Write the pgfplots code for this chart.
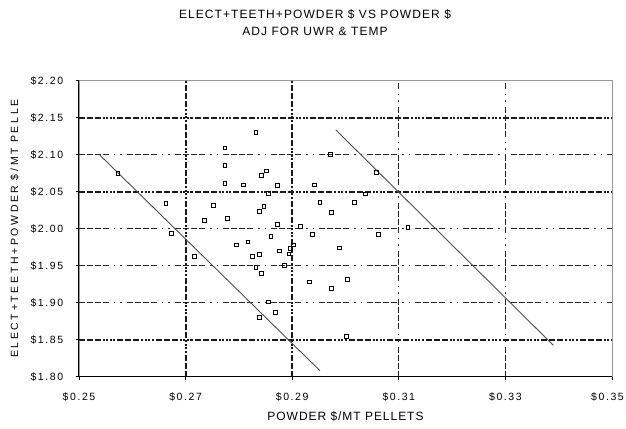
\documentclass[border=0pt]{standalone}
\usepackage{fontspec}
\setmainfont{Liberation Sans}
\newfontfamily\tickfont{Liberation Sans}[LetterSpace=15]
\newfontfamily\xlabfont{Liberation Sans}[LetterSpace=8]
\newfontfamily\ylabfont{Liberation Sans}[LetterSpace=25]
\newfontfamily\titlefont{Liberation Sans}[LetterSpace=9]
\usepackage{pgfplots}
\pgfplotsset{compat=1.18}
\tikzset{
 gthin/.style={black!85, line width=1.1bp, dash pattern=on 6bp off 2bp on 6bp off 2bp on 6bp off 2bp on 6bp off 5bp on 1.5bp off 5bp on 1.5bp off 5bp},
 gthick/.style={black!90, line width=2bp, dash pattern=on 6bp off 2bp on 6bp off 2bp on 6bp off 2bp on 2bp off 1.5bp on 2bp off 1.5bp on 2bp off 1.5bp on 2bp off 2bp},
}
\begin{document}
\begin{tikzpicture}
\useasboundingbox (-79bp,-52.3bp) rectangle (547bp,376.7bp);
\begin{axis}[
 at={(0,0)}, anchor=south west,
 scale only axis, width=533bp, height=296bp,
 xmin=0.25, xmax=0.35, ymin=1.80, ymax=2.20,
 xtick={0.25,0.27,0.29,0.31,0.33,0.35},
 xticklabels={\$0.25,\$0.27,\$0.29,\$0.31,\$0.33,\$0.35\rule{9bp}{0pt}},
 ytick={1.80,1.85,1.90,1.95,2.00,2.05,2.10,2.15,2.20},
 yticklabel={\$\pgfmathprintnumber[fixed,fixed zerofill,precision=2,assume math mode=true]{\tick}},
 tick pos=left, tick align=outside, major tick length=3bp,
 tick style={black, line width=0.8bp},
 axis line style={draw=black!40, line width=0.8bp},
 clip=false,
 xticklabel style={font={\tickfont\fontsize{10.5bp}{12bp}\selectfont}, anchor=center, inner sep=0pt, yshift=-17.5bp},
 yticklabel style={font={\tickfont\fontsize{10.5bp}{12bp}\selectfont}, anchor=east, inner sep=0pt, xshift=-12.7bp},
 xlabel={POWDER \$/MT PELLETS},
 xlabel style={font={\xlabfont\fontsize{12bp}{14bp}\selectfont}, at={(axis description cs:0.5,-0.135)}, anchor=center},
 ylabel={ELECT+TEETH+POWDER \$/MT PELLE},
 ylabel style={font={\ylabfont\fontsize{10.5bp}{12bp}\selectfont}, at={(axis description cs:-0.1206,0.5)}, anchor=center},
]
% grid lines
\draw[gthin] (axis cs:0.25,1.90) -- (axis cs:0.35,1.90);
\draw[gthin] (axis cs:0.25,1.95) -- (axis cs:0.35,1.95);
\draw[gthin] (axis cs:0.25,2.00) -- (axis cs:0.35,2.00);
\draw[gthin] (axis cs:0.25,2.10) -- (axis cs:0.35,2.10);
\draw[gthick] (axis cs:0.25,1.85) -- (axis cs:0.35,1.85);
\draw[gthick] (axis cs:0.25,2.05) -- (axis cs:0.35,2.05);
\draw[gthick] (axis cs:0.25,2.15) -- (axis cs:0.35,2.15);
\draw[gthick] (axis cs:0.27,1.80) -- (axis cs:0.27,2.20);
\draw[gthick] (axis cs:0.29,1.80) -- (axis cs:0.29,2.20);
\draw[gthin] (axis cs:0.31,1.80) -- (axis cs:0.31,2.20);
\draw[gthin] (axis cs:0.33,1.80) -- (axis cs:0.33,2.20);
\draw[black, line width=1bp] (rel axis cs:0,1) -- (rel axis cs:0,0) -- (rel axis cs:1,0);
% title
\node[font={\titlefont\fontsize{12bp}{14bp}\selectfont}] at (axis description cs:0.4428,1.2253) {ELECT+TEETH+POWDER \$ VS POWDER \$};
\node[font={\titlefont\fontsize{12bp}{14bp}\selectfont}] at (axis description cs:0.4428,1.166) {ADJ FOR UWR \& TEMP};
% fitted lines
\addplot[black!70, line width=0.9bp, no marks] coordinates {(0.2539,2.0996) (0.2952,1.8082)};
\addplot[black!70, line width=0.9bp, no marks] coordinates {(0.2982,2.1334) (0.3390,1.8424)};
% data
\addplot[only marks, mark=square, mark size=1.9bp, mark options={black, line width=0.9bp}] coordinates {
(0.2573,2.075) (0.2832,2.130) (0.2774,2.109) (0.2774,2.086) (0.2851,2.078)
(0.2843,2.072) (0.2774,2.061) (0.2808,2.059) (0.2873,2.058) (0.2855,2.048)
(0.2663,2.034) (0.2753,2.031) (0.2847,2.030) (0.2838,2.023) (0.2736,2.011)
(0.2778,2.014) (0.2873,2.006) (0.2673,1.994) (0.2860,1.989) (0.2796,1.978)
(0.2817,1.982) (0.2876,1.970) (0.2716,1.963) (0.2826,1.962) (0.2838,1.965)
(0.2832,1.948) (0.2843,1.939) (0.2885,1.950) (0.2856,1.901) (0.2868,1.887)
(0.2838,1.880) (0.2972,2.100) (0.3058,2.076) (0.2942,2.059) (0.3038,2.047)
(0.2952,2.036) (0.3017,2.035) (0.2973,2.022) (0.2916,2.003) (0.2938,1.992)
(0.3062,1.992) (0.3117,2.002) (0.2988,1.974) (0.2932,1.928) (0.3003,1.931)
(0.2973,1.919) (0.3002,1.854) (0.2903,1.978) (0.2896,1.973) (0.2894,1.966)
};
\end{axis}
\end{tikzpicture}
\end{document}
